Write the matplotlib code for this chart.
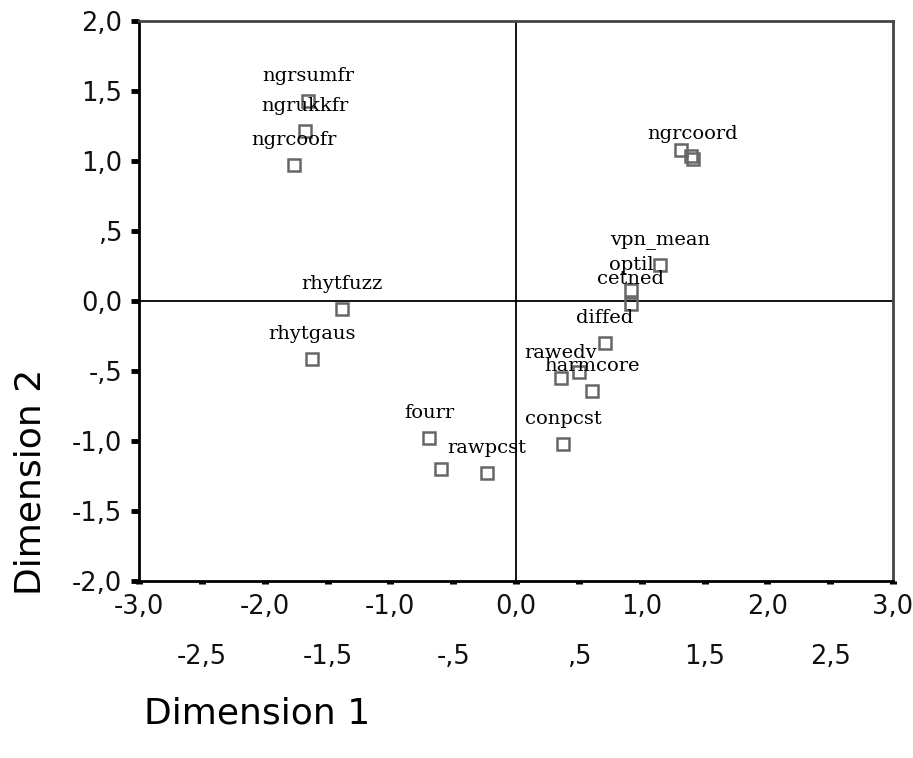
import matplotlib
matplotlib.use("Agg")
import matplotlib.pyplot as plt
from matplotlib.ticker import FixedLocator, FixedFormatter

# object points (dimension 1, dimension 2)
dim1 = [-1.655, -1.679, -1.766, 1.408, 1.313, 1.392, 1.146, 0.915, 0.915,
        0.708, 0.358, 0.501, 0.605, 0.374, -0.692, -0.597, -0.231, -1.388, -1.623]
dim2 = [1.428, 1.213, 0.970, 1.012, 1.077, 1.034, 0.254, 0.082, -0.018,
        -0.297, -0.547, -0.504, -0.640, -1.023, -0.977, -1.199, -1.227, -0.057, -0.411]
names = ["ngrsumfr", "ngrukkfr", "ngrcoofr", "ngrcoord", "", "", "vpn_mean", "optil", "cetned",
         "diffed", "rawedv", "", "harmcore", "conpcst", "fourr", "", "rawpcst", "rhytfuzz", "rhytgaus"]

xmajor = [-3.0, -2.0, -1.0, 0.0, 1.0, 2.0, 3.0]
xmajor_labels = ["-3,0", "-2,0", "-1,0", "0,0", "1,0", "2,0", "3,0"]
xminor = [-2.5, -1.5, -0.5, 0.5, 1.5, 2.5]
xminor_labels = ["-2,5", "-1,5", "-,5", ",5", "1,5", "2,5"]
yticks = [2.0, 1.5, 1.0, 0.5, 0.0, -0.5, -1.0, -1.5, -2.0]
ytick_labels = ["2,0", "1,5", "1,0", ",5", "0,0", "-,5", "-1,0", "-1,5", "-2,0"]

fig = plt.figure(figsize=(9.13, 7.58), dpi=100)
ax = fig.add_axes([139 / 913, 1 - 581 / 758, 754 / 913, 560 / 758])

ax.axhline(0, color="black", lw=1.3, zorder=1)
ax.axvline(0, color="black", lw=1.3, zorder=1)

ax.plot(dim1, dim2, "s", mfc="none", mec="#666666", ms=8.5, mew=1.8, zorder=3)
for x, y, n in zip(dim1, dim2, names):
    if n:
        ax.annotate(n, (x, y), xytext=(0, 18), textcoords="offset points",
                    ha="center", va="center", family="DejaVu Serif", fontsize=14, zorder=4)

ax.set_xlim(-3, 3)
ax.set_ylim(-2, 2)

ax.xaxis.set_major_locator(FixedLocator(xmajor))
ax.xaxis.set_major_formatter(FixedFormatter(xmajor_labels))
ax.xaxis.set_minor_locator(FixedLocator(xminor))
ax.xaxis.set_minor_formatter(FixedFormatter(xminor_labels))
ax.set_yticks(yticks)
ax.set_yticklabels(ytick_labels)

ax.tick_params(axis="x", which="both", direction="out", length=2.5, width=5,
               labelsize=18.5, color="black", labelcolor="#111111")
ax.tick_params(axis="x", which="major", pad=7)
ax.tick_params(axis="x", which="minor", pad=43)
ax.tick_params(axis="y", direction="out", length=6, width=3.5, pad=6, labelsize=18.5,
               labelcolor="#111111")

for side in ["left", "bottom"]:
    ax.spines[side].set_linewidth(2)
    ax.spines[side].set_color("black")
for side in ["top", "right"]:
    ax.spines[side].set_linewidth(2)
    ax.spines[side].set_color("#444444")

ax.set_xlabel("Dimension 1", fontsize=26, ha="left")
ax.xaxis.set_label_coords(0.006, -0.207)
ax.set_ylabel("Dimension 2", fontsize=26)
ax.yaxis.set_label_coords(-0.121, 0.177)

fig.savefig("out.png", dpi=100)
